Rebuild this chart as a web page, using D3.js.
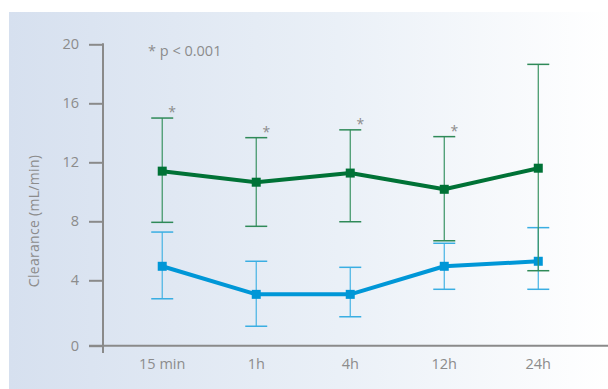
<!DOCTYPE html>
<html>
<head>
<meta charset="utf-8">
<script src="https://cdn.jsdelivr.net/npm/d3@7"></script>
<style>
  html, body { margin: 0; padding: 0; background: #fff; }
  svg { display: block; }
  text { font-family: "Open Sans", "Noto Sans", sans-serif; fill: #8c8c8c; }
</style>
</head>
<body>
<svg id="chart" width="608" height="389"></svg>
<script>
// Time points
const timePoints = ["15 min", "1h", "4h", "12h", "24h"];

// Upper series (green): mean and error range
const greenMean  = [11.4, 10.65, 11.27, 10.17, 11.6];
const greenUpper = [15.0, 13.67, 14.2, 13.74, 18.64];
const greenLower = [7.93, 7.66, 7.97, 6.68, 4.65];

// Lower series (blue): mean and error range
const blueMean  = [4.95, 3.14, 3.14, 4.95, 5.29];
const blueUpper = [7.27, 5.29, 4.88, 6.51, 7.57];
const blueLower = [2.87, 1.19, 1.77, 3.45, 3.45];

// Significance markers on the green series
const significant = [true, true, true, true, false];

// Y-axis ticks
const yTicks = [0, 4, 8, 12, 16, 20];

const svg = d3.select("#chart");

// Background panel with horizontal fade
const defs = svg.append("defs");
const grad = defs.append("linearGradient").attr("id", "bg").attr("x1", 0).attr("x2", 1).attr("y1", 0).attr("y2", 0);
grad.append("stop").attr("offset", "0%").attr("stop-color", "#d6e0ef");
grad.append("stop").attr("offset", "55%").attr("stop-color", "#eaf0f7");
grad.append("stop").attr("offset", "100%").attr("stop-color", "#ffffff");
svg.append("rect").attr("x", 9).attr("y", 12).attr("width", 599).attr("height", 377).attr("fill", "url(#bg)");

// Scales (the bottom interval is drawn slightly taller than the others)
const x = d3.scalePoint().domain(timePoints).range([103, 597.5]).padding(0.63);
const y = d3.scaleLinear().domain([0, 4, 20]).range([345.7, 280.3, 44.3]);

const axisColor = "#8a8a8a";

// Y axis
const yAxis = svg.append("g").attr("transform", "translate(103,0)")
  .call(d3.axisLeft(y).tickValues(yTicks).tickSize(14).tickPadding(10).tickSizeOuter(0));
yAxis.select(".domain").remove();
yAxis.selectAll(".tick line").attr("stroke", axisColor).attr("stroke-width", 2);
yAxis.selectAll(".tick text").attr("font-size", 14.5).attr("fill", "#8c8c8c").style("font-family", "'Open Sans', sans-serif");
svg.append("line").attr("x1", 103).attr("x2", 103).attr("y1", y(20) - 1).attr("y2", 353)
  .attr("stroke", axisColor).attr("stroke-width", 2);

// X axis
svg.append("line").attr("x1", 89).attr("x2", 608).attr("y1", y(0)).attr("y2", y(0))
  .attr("stroke", axisColor).attr("stroke-width", 2);
svg.append("g").selectAll("text").data(timePoints).join("text")
  .attr("x", d => x(d)).attr("y", 369)
  .attr("text-anchor", "middle").attr("font-size", 14.5).attr("letter-spacing", 0)
  .text(d => d);

// Y axis title
svg.append("text")
  .attr("transform", "translate(39,221) rotate(-90)")
  .attr("text-anchor", "middle").attr("font-size", 14).attr("letter-spacing", 0.3)
  .text("Clearance (mL/min)");

// Footnote
svg.append("text").attr("x", 148).attr("y", 56).attr("font-size", 14.5)
  .text("* p < 0.001");

function drawSeries(mean, upper, lower, lineColor, barColor, capColor) {
  const g = svg.append("g");
  const capHalf = 11;
  timePoints.forEach((t, i) => {
    const cx = x(t);
    g.append("line").attr("x1", cx).attr("x2", cx).attr("y1", y(upper[i])).attr("y2", y(lower[i]))
      .attr("stroke", barColor).attr("stroke-width", 1.2);
    [upper[i], lower[i]].forEach(v => {
      g.append("line").attr("x1", cx - capHalf).attr("x2", cx + capHalf).attr("y1", y(v)).attr("y2", y(v))
        .attr("stroke", capColor).attr("stroke-width", 1.5);
    });
  });
  const line = d3.line().x((d, i) => x(timePoints[i])).y(d => y(d));
  g.append("path").datum(mean).attr("d", line).attr("fill", "none")
    .attr("stroke", lineColor).attr("stroke-width", 4).attr("stroke-linejoin", "round");
  g.selectAll("rect").data(mean).join("rect")
    .attr("x", (d, i) => x(timePoints[i]) - 4.5).attr("y", d => y(d) - 4.5)
    .attr("width", 9).attr("height", 9).attr("fill", lineColor);
  return g;
}

drawSeries(blueMean, blueUpper, blueLower, "#0097d7", "#45b3e4", "#3aaee2");
drawSeries(greenMean, greenUpper, greenLower, "#007236", "#3a9363", "#2f8a58");

// Asterisks above significant upper caps
svg.append("g").selectAll("text").data(timePoints.filter((t, i) => significant[i])).join("text")
  .attr("x", d => x(d) + 10)
  .attr("y", d => y(greenUpper[timePoints.indexOf(d)]) - 1)
  .attr("text-anchor", "middle").attr("font-size", 14).attr("fill", "#999")
  .text("*");
</script>
</body>
</html>
